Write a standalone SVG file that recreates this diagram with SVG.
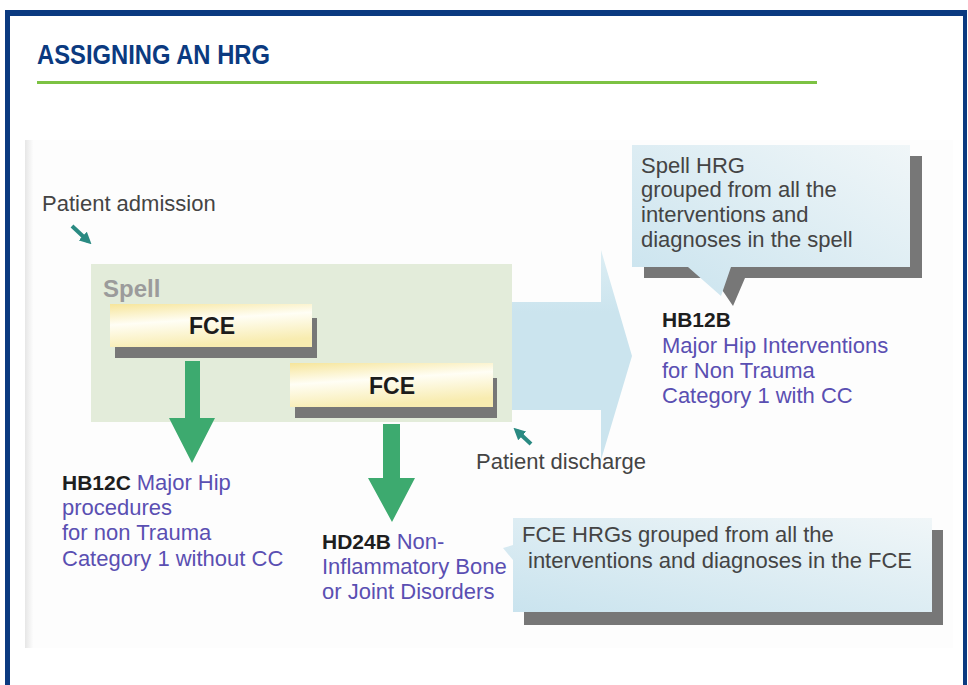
<svg xmlns="http://www.w3.org/2000/svg" width="968" height="685" viewBox="0 0 968 685">
<style>
  .t { font-family: "Liberation Sans", Arial, sans-serif; font-size: 22px; fill: #444; }
  .code { font-family: "Liberation Sans", Arial, sans-serif; font-size: 21px; font-weight: bold; fill: #1e1e1e; }
  .desc { fill: #5a4fb2; }
  .fce { font-family: "Liberation Sans", Arial, sans-serif; font-size: 23px; font-weight: bold; fill: #1c1c1c; }
  .shadow { fill: #777; }
  .green { fill: #3daa6f; }
  .teal { stroke: #2a8a82; stroke-width: 4; fill: none; }
</style>
<defs>
  <linearGradient id="fceGrad" x1="0" y1="0" x2="0.3" y2="1">
    <stop offset="0" stop-color="#f6e59a"/>
    <stop offset="0.45" stop-color="#fffef5"/>
    <stop offset="1" stop-color="#f8ecb0"/>
  </linearGradient>
  <linearGradient id="calloutGrad" x1="0" y1="1" x2="1" y2="0">
    <stop offset="0" stop-color="#c9e3ee"/>
    <stop offset="1" stop-color="#f0f6f8"/>
  </linearGradient>
  <linearGradient id="bigArrow" x1="0" y1="0" x2="0" y2="1">
    <stop offset="0" stop-color="#ddeef4"/>
    <stop offset="0.3" stop-color="#cbe4ee"/>
    <stop offset="1" stop-color="#cbe4ee"/>
  </linearGradient>
  <linearGradient id="imgEdge" x1="0" y1="0" x2="1" y2="0">
    <stop offset="0" stop-color="#e6e6e6"/>
    <stop offset="1" stop-color="#fcfcfc"/>
  </linearGradient>
  <marker id="tealHead" viewBox="0 0 10 10" refX="6" refY="5" markerWidth="3" markerHeight="3" orient="auto">
    <path d="M0,0 L10,5 L0,10 z" fill="#2a8a82"/>
  </marker>
</defs>

<!-- page -->
<rect x="0" y="0" width="968" height="685" fill="#ffffff"/>
<g id="frame" fill="#0b3a80">
  <rect x="5" y="10" width="962" height="6"/>
  <rect x="5" y="10" width="5" height="675"/>
  <rect x="963" y="10" width="4" height="675"/>
</g>
<g id="title">
  <text x="37" y="64" font-family="'Liberation Sans', Arial, sans-serif" font-size="27" font-weight="bold" fill="#0b3a80" textLength="233" lengthAdjust="spacingAndGlyphs">ASSIGNING AN HRG</text>
  <rect x="37" y="81" width="780" height="3" fill="#7cc243"/>
</g>

<!-- picture background -->
<rect x="25" y="140" width="928" height="508" fill="#fdfdfd"/>
<rect x="25" y="140" width="8" height="508" fill="url(#imgEdge)"/>

<!-- big spell arrow -->
<g id="spell-arrow">
  <path d="M500,302 L601,302 L601,250 L632,356 L601,460 L601,410 L500,410 Z" fill="url(#bigArrow)"/>
</g>

<!-- spell box -->
<g id="spell">
  <rect x="91" y="264" width="421" height="158" fill="#e3ecda"/>
  <text x="103" y="297" font-family="'Liberation Sans', Arial, sans-serif" font-size="24" font-weight="bold" fill="#9b9b9b">Spell</text>
</g>

<!-- FCE 1 -->
<g id="fce1">
  <path class="shadow" d="M312,318 L317,318 L317,358 L115,358 L115,347 L312,347 Z"/>
  <rect x="110" y="304" width="202" height="43" fill="url(#fceGrad)"/>
  <text class="fce" x="212" y="334" text-anchor="middle">FCE</text>
</g>

<!-- FCE 2 -->
<g id="fce2">
  <path class="shadow" d="M493,378 L497,378 L497,418 L295,418 L295,407 L493,407 Z"/>
  <rect x="290" y="363" width="203" height="44" fill="url(#fceGrad)"/>
  <text class="fce" x="392" y="394" text-anchor="middle">FCE</text>
</g>

<!-- connectors -->
<g id="connectors">
  <path class="green" d="M185,361 L200,361 L200,418 L215,418 L192,463 L169,418 L185,418 Z"/>
  <path class="green" d="M383,424 L400,424 L400,478 L415,478 L392,522 L368,478 L383,478 Z"/>
  <line class="teal" x1="72" y1="226" x2="88" y2="241" marker-end="url(#tealHead)"/>
  <line class="teal" x1="531" y1="444" x2="517" y2="431" marker-end="url(#tealHead)"/>
</g>

<!-- labels -->
<g id="admission">
  <text class="t" x="42" y="211">Patient admission</text>
</g>
<g id="discharge">
  <text class="t" x="476" y="469">Patient discharge</text>
</g>

<g id="hb12c">
  <text class="code" x="62" y="490">HB12C <tspan class="desc" font-weight="normal" font-size="22">Major Hip</tspan></text>
  <text class="t desc" x="62" y="515">procedures</text>
  <text class="t desc" x="62" y="540">for non Trauma</text>
  <text class="t desc" x="62" y="566">Category 1 without CC</text>
</g>

<g id="hd24b">
  <text class="code" x="322" y="549">HD24B <tspan class="desc" font-weight="normal" font-size="22">Non-</tspan></text>
  <text class="t desc" x="322" y="574">Inflammatory Bone</text>
  <text class="t desc" x="322" y="599">or Joint Disorders</text>
</g>

<g id="hb12b">
  <text class="code" x="662" y="327">HB12B</text>
  <text class="t desc" x="662" y="353">Major Hip Interventions</text>
  <text class="t desc" x="662" y="378">for Non Trauma</text>
  <text class="t desc" x="662" y="403">Category 1 with CC</text>
</g>

<!-- spell HRG callout -->
<g id="spell-callout">
  <path class="shadow" d="M644,156 L922,156 L922,278 L745,278 L733,306 L714,278 L644,278 Z"/>
  <path d="M632,145 L910,145 L910,267 L731,267 L721,296 L688,267 L632,267 Z" fill="url(#calloutGrad)"/>
  <text class="t" x="641" y="173">Spell HRG</text>
  <text class="t" x="641" y="197">grouped from all the</text>
  <text class="t" x="641" y="222">interventions and</text>
  <text class="t" x="641" y="247">diagnoses in the spell</text>
</g>

<!-- FCE HRG callout -->
<g id="fce-callout">
  <rect class="shadow" x="524" y="530" width="419" height="95"/>
  <path d="M513,518 L932,518 L932,612 L513,612 L513,560 L503,548 L513,545 Z" fill="url(#calloutGrad)"/>
  <text class="t" x="522" y="542">FCE HRGs grouped from all the</text>
  <text class="t" x="528" y="568">interventions and diagnoses in the FCE</text>
</g>
</svg>
